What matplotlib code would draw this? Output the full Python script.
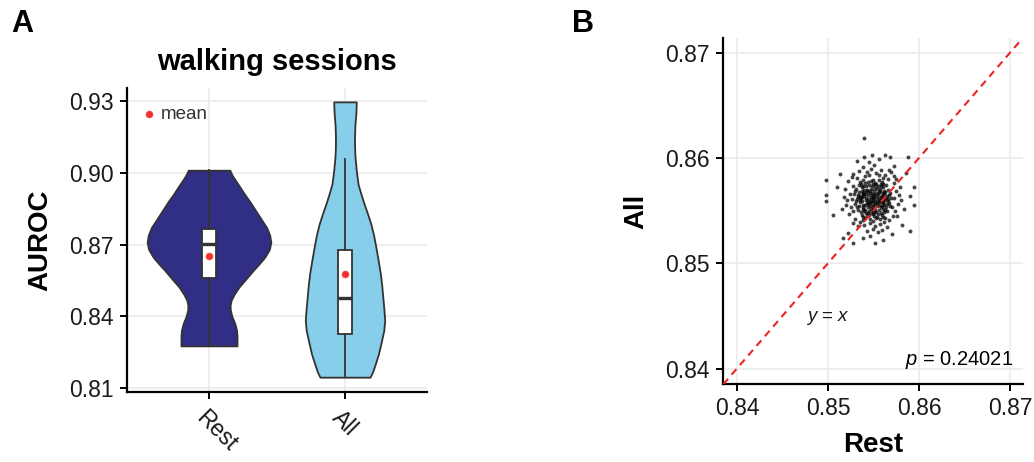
import matplotlib
matplotlib.use("Agg")
import matplotlib.pyplot as plt
from matplotlib.transforms import ScaledTranslation

plt.rcParams['font.family'] = ['Liberation Sans', 'DejaVu Sans']
plt.rcParams['mathtext.fontset'] = 'custom'
plt.rcParams['mathtext.it'] = 'Liberation Sans:italic'
plt.rcParams['mathtext.rm'] = 'Liberation Sans'

# ---------------- data: panel A (violins) ----------------
CATEGORIES = ['Rest', 'All']
VIOLIN_COLORS = ['#312e85', '#87ceeb']

# violin outline: AUROC level and half-width (category units)
REST_LEVELS = [0.8276, 0.8290, 0.8314, 0.8340, 0.8369, 0.8400, 0.8425, 0.8445, 0.8467,
               0.8490, 0.8522, 0.8555, 0.8592, 0.8620, 0.8647, 0.8680, 0.8710, 0.8740,
               0.8772, 0.8805, 0.8842, 0.8880, 0.8911, 0.8940, 0.8967, 0.8990, 0.9011]
REST_HALFWIDTH = [0.206, 0.206, 0.206, 0.203, 0.190, 0.168, 0.157, 0.155, 0.163,
                  0.183, 0.220, 0.270, 0.325, 0.370, 0.410, 0.444, 0.455, 0.446,
                  0.423, 0.385, 0.343, 0.300, 0.261, 0.228, 0.196, 0.170, 0.153]
ALL_LEVELS = [0.8145, 0.8170, 0.8203, 0.8240, 0.8286, 0.8340, 0.8383, 0.8430, 0.8480,
              0.8530, 0.8578, 0.8630, 0.8689, 0.8740, 0.8786, 0.8830, 0.8869, 0.8910,
              0.8953, 0.9010, 0.9064, 0.9100, 0.9150, 0.9200, 0.9250, 0.9297]
ALL_HALFWIDTH = [0.184, 0.205, 0.224, 0.245, 0.264, 0.285, 0.292, 0.286, 0.278,
                 0.270, 0.260, 0.245, 0.227, 0.210, 0.190, 0.165, 0.141, 0.118,
                 0.096, 0.083, 0.074, 0.071, 0.070, 0.073, 0.080, 0.083]

BOX_Q1 = [0.8561, 0.8325]
BOX_MEDIAN = [0.8703, 0.8478]
BOX_Q3 = [0.8765, 0.8678]
WHISKER_LOW = [0.8276, 0.8145]
WHISKER_HIGH = [0.9011, 0.9057]
MEANS = [0.8654, 0.8575]

A_YTICKS = [0.81, 0.84, 0.87, 0.90, 0.93]

# ---------------- data: panel B (bootstrap AUROC pairs: Rest, All) ----------------
BOOTSTRAP_PAIRS = [
    (0.8535, 0.8577), (0.8541, 0.8576), (0.8547, 0.8578), (0.8553, 0.8575), (0.8559, 0.8577),
    (0.8564, 0.8574), (0.8538, 0.8573), (0.8550, 0.8579), (0.8531, 0.8571), (0.8537, 0.8572),
    (0.8543, 0.8570), (0.8548, 0.8573), (0.8554, 0.8571), (0.8560, 0.8572), (0.8566, 0.8570),
    (0.8545, 0.8574), (0.8557, 0.8569), (0.8529, 0.8566), (0.8534, 0.8568), (0.8540, 0.8566),
    (0.8546, 0.8567), (0.8551, 0.8565), (0.8556, 0.8568), (0.8562, 0.8566), (0.8568, 0.8567),
    (0.8543, 0.8569), (0.8549, 0.8562), (0.8532, 0.8561), (0.8537, 0.8563), (0.8542, 0.8560),
    (0.8547, 0.8563), (0.8553, 0.8561), (0.8558, 0.8563), (0.8563, 0.8560), (0.8569, 0.8562),
    (0.8540, 0.8564), (0.8555, 0.8559), (0.8530, 0.8556), (0.8535, 0.8558), (0.8541, 0.8555),
    (0.8546, 0.8557), (0.8552, 0.8556), (0.8557, 0.8558), (0.8562, 0.8555), (0.8567, 0.8557),
    (0.8544, 0.8553), (0.8550, 0.8559), (0.8533, 0.8551), (0.8539, 0.8552), (0.8545, 0.8550),
    (0.8550, 0.8553), (0.8556, 0.8551), (0.8561, 0.8552), (0.8565, 0.8550), (0.8548, 0.8548),
    (0.8537, 0.8546), (0.8543, 0.8545), (0.8549, 0.8547), (0.8554, 0.8544), (0.8559, 0.8546),
    (0.8563, 0.8543), (0.8546, 0.8542), (0.8536, 0.8575), (0.8544, 0.8577), (0.8552, 0.8576),
    (0.8561, 0.8575), (0.8540, 0.8570), (0.8551, 0.8570), (0.8563, 0.8568), (0.8533, 0.8565),
    (0.8538, 0.8566), (0.8548, 0.8565), (0.8553, 0.8567), (0.8559, 0.8565), (0.8565, 0.8564),
    (0.8535, 0.8560), (0.8545, 0.8561), (0.8551, 0.8563), (0.8560, 0.8561), (0.8566, 0.8559),
    (0.8538, 0.8555), (0.8543, 0.8557), (0.8549, 0.8555), (0.8554, 0.8554), (0.8560, 0.8557),
    (0.8564, 0.8553), (0.8536, 0.8549), (0.8542, 0.8548), (0.8553, 0.8549), (0.8558, 0.8548),
    (0.8541, 0.8543), (0.8551, 0.8545), (0.8557, 0.8542),
    (0.8539, 0.8579), (0.8556, 0.8579), (0.8534, 0.8574), (0.8549, 0.8575), (0.8558, 0.8573),
    (0.8530, 0.8569), (0.8542, 0.8567), (0.8555, 0.8566), (0.8567, 0.8565), (0.8536, 0.8562),
    (0.8548, 0.8560), (0.8561, 0.8563), (0.8531, 0.8559), (0.8544, 0.8559), (0.8557, 0.8560),
    (0.8568, 0.8554), (0.8534, 0.8554), (0.8547, 0.8552), (0.8559, 0.8554), (0.8540, 0.8550),
    (0.8552, 0.8551), (0.8562, 0.8549), (0.8545, 0.8546), (0.8555, 0.8547), (0.8539, 0.8541),
    (0.8549, 0.8540), (0.8560, 0.8544),
    (0.8537, 0.8569), (0.8542, 0.8573), (0.8547, 0.8571), (0.8552, 0.8572), (0.8557, 0.8571),
    (0.8562, 0.8569), (0.8535, 0.8564), (0.8539, 0.8567), (0.8544, 0.8565), (0.8550, 0.8567),
    (0.8554, 0.8564), (0.8560, 0.8567), (0.8564, 0.8562), (0.8537, 0.8559), (0.8542, 0.8562),
    (0.8547, 0.8558), (0.8552, 0.8558), (0.8556, 0.8562), (0.8561, 0.8558), (0.8565, 0.8556),
    (0.8539, 0.8553), (0.8544, 0.8556), (0.8549, 0.8551), (0.8554, 0.8557), (0.8558, 0.8553),
    (0.8563, 0.8551), (0.8541, 0.8551), (0.8546, 0.8554), (0.8551, 0.8549), (0.8556, 0.8555),
    (0.8553, 0.8543), (0.8544, 0.8548), (0.8533, 0.8563), (0.8546, 0.8569), (0.8558, 0.8575),
    (0.8532, 0.8553), (0.8566, 0.8561), (0.8555, 0.8573),
    (0.8528, 0.8585), (0.8534, 0.8588), (0.8541, 0.8583), (0.8547, 0.8590), (0.8553, 0.8586),
    (0.8558, 0.8589), (0.8563, 0.8584), (0.8569, 0.8587), (0.8538, 0.8591), (0.8551, 0.8593),
    (0.8545, 0.8584), (0.8560, 0.8581), (0.8532, 0.8581), (0.8566, 0.8580), (0.8572, 0.8583),
    (0.8522, 0.8578), (0.8519, 0.8571), (0.8524, 0.8566), (0.8521, 0.8560), (0.8525, 0.8553),
    (0.8523, 0.8547), (0.8527, 0.8573), (0.8526, 0.8561), (0.8528, 0.8550), (0.8572, 0.8576),
    (0.8575, 0.8569), (0.8573, 0.8562), (0.8577, 0.8556), (0.8574, 0.8550), (0.8571, 0.8545),
    (0.8578, 0.8565), (0.8570, 0.8553), (0.8530, 0.8542), (0.8535, 0.8539), (0.8540, 0.8536),
    (0.8546, 0.8538), (0.8552, 0.8535), (0.8557, 0.8537), (0.8562, 0.8539), (0.8567, 0.8541),
    (0.8549, 0.8533), (0.8543, 0.8531), (0.8559, 0.8532), (0.8538, 0.8544),
    (0.8526, 0.8582), (0.8543, 0.8587), (0.8556, 0.8584), (0.8567, 0.8589), (0.8575, 0.8580),
    (0.8518, 0.8563), (0.8580, 0.8560), (0.8579, 0.8572), (0.8576, 0.8545), (0.8533, 0.8535),
    (0.8555, 0.8530), (0.8565, 0.8534), (0.8528, 0.8538), (0.8520, 0.8555), (0.8583, 0.8552),
    (0.8498, 0.8579), (0.8498, 0.8565), (0.8498, 0.8559), (0.8505, 0.8546), (0.8510, 0.8572),
    (0.8513, 0.8585), (0.8515, 0.8552), (0.8532, 0.8597), (0.8540, 0.8601), (0.8548, 0.8603),
    (0.8556, 0.8599), (0.8563, 0.8603), (0.8568, 0.8601), (0.8545, 0.8596), (0.8572, 0.8592),
    (0.8588, 0.8601), (0.8595, 0.8572), (0.8594, 0.8555), (0.8581, 0.8536), (0.8590, 0.8531),
    (0.8586, 0.8586), (0.8590, 0.8564), (0.8517, 0.8524), (0.8522, 0.8529), (0.8527, 0.8519),
    (0.8539, 0.8524), (0.8552, 0.8519), (0.8560, 0.8522), (0.8570, 0.8528), (0.8546, 0.8526),
    (0.8540, 0.8619),
]
B_TICKS = [0.84, 0.85, 0.86, 0.87]
P_VALUE_TEXT = '0.24021'

# ---------------- figure ----------------
W, H = 1034, 462
fig = plt.figure(figsize=(W / 100, H / 100), dpi=100)
fig.patch.set_facecolor('white')

GRID = '#ebebeb'
EDGE = '#333333'

def style_axes(ax):
    for s in ['top', 'right']:
        ax.spines[s].set_visible(False)
    for s in ['left', 'bottom']:
        ax.spines[s].set_linewidth(1.6)
        ax.spines[s].set_color('black')
    ax.grid(True, color=GRID, lw=1.2, zorder=0)
    ax.set_axisbelow(True)
    ax.tick_params(axis='both', length=5, width=1.4, color='black',
                   labelsize=16.5, labelcolor='#1a1a1a')

# ---- panel A ----
axA = fig.add_axes([127.4 / W, 70 / H, 299.2 / W, 304 / H])
style_axes(axA)
positions = [1, 2]
profiles = [(REST_LEVELS, REST_HALFWIDTH), (ALL_LEVELS, ALL_HALFWIDTH)]
for pos, (lv, hw), col in zip(positions, profiles, VIOLIN_COLORS):
    left = [pos - w for w in hw]
    right = [pos + w for w in hw]
    axA.fill_betweenx(lv, left, right, facecolor=col, edgecolor=EDGE, lw=1.3, zorder=2)

stats = []
for i, lab in enumerate(CATEGORIES):
    stats.append(dict(label=lab, q1=BOX_Q1[i], med=BOX_MEDIAN[i], q3=BOX_Q3[i],
                      whislo=WHISKER_LOW[i], whishi=WHISKER_HIGH[i], fliers=[]))
axA.bxp(stats, positions=positions, widths=0.1, patch_artist=True, showcaps=False,
        showfliers=False, manage_ticks=False,
        boxprops=dict(facecolor='white', edgecolor=EDGE, lw=1.3),
        whiskerprops=dict(color=EDGE, lw=1.3),
        medianprops=dict(color=EDGE, lw=2.4), zorder=3)
axA.scatter(positions, MEANS, s=26, color='#f03030', zorder=5, edgecolor='#ff6060', lw=0.4)

# legend for mean
axA.scatter([0.559], [0.9245], s=26, color='#f03030', zorder=5, edgecolor='#ff6060', lw=0.4)
axA.text(0.648, 0.9245, 'mean', fontsize=13.5, color='#333333', va='center', ha='left')

axA.set_xlim(0.4, 2.6)
axA.set_ylim(0.8083, 0.9355)
axA.set_yticks(A_YTICKS)
axA.set_yticklabels([f'{v:.2f}' for v in A_YTICKS])
axA.set_xticks(positions)
axA.set_xticklabels(CATEGORIES, rotation=-45, ha='left', va='center', rotation_mode='anchor')
axA.tick_params(axis='x', pad=11)
axA.tick_params(axis='y', pad=5)
off = ScaledTranslation(-0.09, 0, fig.dpi_scale_trans)
for lab in axA.get_xticklabels():
    lab.set_transform(lab.get_transform() + off)
axA.set_title('walking sessions', fontsize=21, fontweight='bold', pad=13)

fig.text(40 / W, 1 - 240 / H, 'AUROC', rotation=90, ha='center', va='center',
         fontsize=20, fontweight='bold')
fig.text(22.5 / W, 1 - 24 / H, 'A', ha='center', va='center', fontsize=22, fontweight='bold')

# ---- panel B ----
axB = fig.add_axes([723.3 / W, 77.7 / H, 300 / W, 346 / H])
style_axes(axB)
rest_vals = [p[0] for p in BOOTSTRAP_PAIRS]
all_vals = [p[1] for p in BOOTSTRAP_PAIRS]
axB.scatter(rest_vals, all_vals, s=8, color='black', alpha=0.72, lw=0, zorder=3)
axB.axline((B_TICKS[0], B_TICKS[0]), slope=1, color='#ee2222', lw=1.5,
           ls=(0, (3.5, 2.6)), zorder=4)
axB.set_xlim(0.8385, 0.87146)
axB.set_ylim(0.8385, 0.87137)
axB.set_xticks(B_TICKS)
axB.set_yticks(B_TICKS)
axB.set_xticklabels([f'{v:.2f}' for v in B_TICKS])
axB.set_yticklabels([f'{v:.2f}' for v in B_TICKS])
axB.tick_params(axis='x', pad=4)
axB.tick_params(axis='y', pad=5)
axB.text(0.8500, 0.8448, '$y$ = $x$', fontsize=13.5, ha='center', va='center', color='#1a1a1a')
axB.text(0.8704, 0.8408, '$p$ = ' + P_VALUE_TEXT, fontsize=14.5, ha='right', va='center',
         color='black')

fig.text(636.7 / W, 1 - 211 / H, 'All', rotation=90, ha='center', va='center',
         fontsize=20, fontweight='bold')
fig.text(873.3 / W, 1 - 445 / H, 'Rest', ha='center', va='center',
         fontsize=20, fontweight='bold')
fig.text(583 / W, 1 - 24 / H, 'B', ha='center', va='center', fontsize=22, fontweight='bold')

fig.savefig('out.png', dpi=100)
